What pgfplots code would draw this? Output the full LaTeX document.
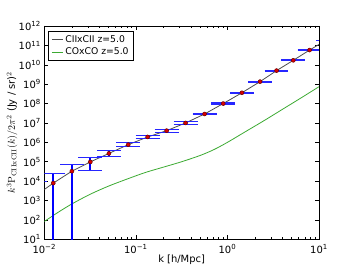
\documentclass[border=0pt]{standalone}
\usepackage[no-math]{fontspec}
\setmainfont{DejaVu Sans}
\usepackage{pgfplots}
\pgfplotsset{compat=1.18}
\definecolor{mplgreen}{RGB}{60,170,50}
\begin{document}
\begin{tikzpicture}
\path[use as bounding box] (-44.3bp,-26.7bp) rectangle (309.7bp,239.3bp);
\begin{axis}[
  at={(0,0)}, anchor=south west,
  scale only axis, width=274.7bp, height=213.3bp,
  xmode=log, ymode=log,
  xmin=0.01, xmax=10, ymin=10, ymax=1e12,
  unbounded coords=jump,
  xtick={0.01,0.1,1,10},
  xticklabels={10\textsuperscript{−2},10\textsuperscript{−1},10\textsuperscript{0},10\textsuperscript{1}},
  ytick={1e1,1e2,1e3,1e4,1e5,1e6,1e7,1e8,1e9,1e10,1e11,1e12},
  yticklabels={10\textsuperscript{1},10\textsuperscript{2},10\textsuperscript{3},10\textsuperscript{4},10\textsuperscript{5},10\textsuperscript{6},10\textsuperscript{7},10\textsuperscript{8},10\textsuperscript{9},10\textsuperscript{10},10\textsuperscript{11},10\textsuperscript{12}},
  yminorticks=false,
  tick align=inside,
  major tick length=4bp, minor tick length=2bp,
  tick style={black, line width=0.5bp},
  axis line style={line width=0.8bp},
  ticklabel style={font=\fontsize{10}{12}\selectfont},
  xticklabel style={yshift=-1.5bp},
  xlabel={k [h/Mpc]},
  ylabel={$k^3\mathrm{P}_{\mathrm{CIIxCII}}(k)/2\pi^2$ (Jy / sr)$^2$},
  label style={font=\fontsize{10}{12}\selectfont},
  xlabel style={at={(axis description cs:0.5,-0.097)}, anchor=center},
  ylabel style={at={(axis description cs:-0.117,0.5)}, anchor=center},
  legend style={at={(axis description cs:0.015,0.978)}, anchor=north west,
    draw=black, line width=0.8bp, font=\fontsize{9.3}{11}\selectfont,
    inner sep=2.5bp, row sep=0bp},
  legend cell align=left,
  legend image code/.code={\draw[#1, line width=1bp] (0bp,0bp) -- (11bp,0bp);},
]
\addplot[black!70, line width=0.8bp] coordinates {
(0.01,3.7e3) (0.01253,7.9e3) (0.02,3.24e4) (0.0318,9.8e4) (0.0508,2.69e5)
(0.0826,7.6e5) (0.1346,1.9e6) (0.217,4.0e6) (0.349,1.0e7) (0.563,2.9e7)
(0.90,1.0e8) (1.44,3.6e8) (2.27,1.35e9) (3.44,5.0e9) (5.24,1.7e10)
(7.9,5.75e10) (10,1.12e11)};
\addlegendentry{CIIxCII z=5.0}
\addplot[mplgreen, line width=0.8bp, smooth] coordinates {
(0.01,83) (0.01413,245) (0.01995,661) (0.03162,2089) (0.05012,5495)
(0.07943,1.259e4) (0.1259,2.754e4) (0.1995,5.248e4) (0.3162,1.0e5)
(0.5012,2.089e5) (0.7079,4.169e5) (1.0,1.0e6) (1.585,3.631e6)
(2.512,1.318e7) (3.981,5.012e7) (6.310,1.905e8) (10,7.413e8)};
\addlegendentry{COxCO z=5.0}
% vertical error bars
\addplot[blue, line width=1.7bp, forget plot] coordinates {
(0.0079,1) (0.0079,1.0e4) (nan,nan)
(0.01253,1) (0.01253,2.6e4) (nan,nan)
(0.02,1) (0.02,7.14e4) (nan,nan)
(0.0318,3.6e4) (0.0318,1.62e5) (nan,nan)
(0.0508,1.82e5) (0.0508,3.69e5) (nan,nan)
(0.0826,6.0e5) (0.0826,9.5e5) (nan,nan)
(0.1346,1.55e6) (0.1346,2.3e6) (nan,nan)
(0.217,3.3e6) (0.217,4.7e6) (nan,nan)
(0.349,0.86e7) (0.349,1.16e7) (nan,nan)
(0.563,2.64e7) (0.563,3.19e7) (nan,nan)
(0.90,0.93e8) (0.90,1.07e8) (nan,nan)
(1.44,3.44e8) (1.44,3.77e8) (nan,nan)
(2.27,1.29e9) (2.27,1.41e9) (nan,nan)
(3.44,4.8e9) (3.44,5.2e9) (nan,nan)
(5.24,1.63e10) (5.24,1.77e10) (nan,nan)
(7.9,5.51e10) (7.9,5.99e10) (nan,nan)
(12.6,1.72e11) (12.6,1.88e11)};
% error bar caps
\addplot[blue!85, line width=1.1bp, forget plot] coordinates {
(0.00585,1.0e4) (0.01067,1.0e4) (nan,nan)
(0.00928,2.6e4) (0.01692,2.6e4) (nan,nan)
(0.01481,7.14e4) (0.0270,7.14e4) (nan,nan)
(0.02356,1.62e5) (0.04293,1.62e5) (nan,nan)
(0.02356,3.6e4) (0.04293,3.6e4) (nan,nan)
(0.03763,3.69e5) (0.06858,3.69e5) (nan,nan)
(0.03763,1.82e5) (0.06858,1.82e5) (nan,nan)
(0.06119,9.5e5) (0.1115,9.5e5) (nan,nan)
(0.06119,6.0e5) (0.1115,6.0e5) (nan,nan)
(0.0997,2.3e6) (0.1817,2.3e6) (nan,nan)
(0.0997,1.55e6) (0.1817,1.55e6) (nan,nan)
(0.1607,4.7e6) (0.2930,4.7e6) (nan,nan)
(0.1607,3.3e6) (0.2930,3.3e6) (nan,nan)
(0.2585,1.16e7) (0.4712,1.16e7) (nan,nan)
(0.2585,0.86e7) (0.4712,0.86e7) (nan,nan)
(0.4170,3.19e7) (0.7601,3.19e7) (nan,nan)
(0.4170,2.64e7) (0.7601,2.64e7) (nan,nan)
(0.6667,1.07e8) (1.215,1.07e8) (nan,nan)
(0.6667,0.93e8) (1.215,0.93e8) (nan,nan)
(1.0667,3.77e8) (1.944,3.77e8) (nan,nan)
(1.0667,3.44e8) (1.944,3.44e8) (nan,nan)
(1.6815,1.41e9) (3.0645,1.41e9) (nan,nan)
(1.6815,1.29e9) (3.0645,1.29e9) (nan,nan)
(2.548,5.2e9) (4.644,5.2e9) (nan,nan)
(2.548,4.8e9) (4.644,4.8e9) (nan,nan)
(3.881,1.77e10) (7.074,1.77e10) (nan,nan)
(3.881,1.63e10) (7.074,1.63e10) (nan,nan)
(5.852,5.99e10) (10.665,5.99e10) (nan,nan)
(5.852,5.51e10) (10.665,5.51e10) (nan,nan)
(9.333,1.88e11) (17.01,1.88e11) (nan,nan)
(9.333,1.72e11) (17.01,1.72e11)};
% data points
\addplot[only marks, mark=*, mark size=2bp, forget plot,
  mark options={fill=red!85!black, draw=black!60!red, line width=0.5bp}]
coordinates {
(0.0079,2.0e3) (0.01253,7.9e3) (0.02,3.24e4) (0.0318,9.8e4) (0.0508,2.69e5)
(0.0826,7.6e5) (0.1346,1.9e6) (0.217,4.0e6) (0.349,1.0e7) (0.563,2.9e7)
(0.90,1.0e8) (1.44,3.6e8) (2.27,1.35e9) (3.44,5.0e9) (5.24,1.7e10)
(7.9,5.75e10) (12.6,1.8e11)};
\end{axis}
\end{tikzpicture}
\end{document}
